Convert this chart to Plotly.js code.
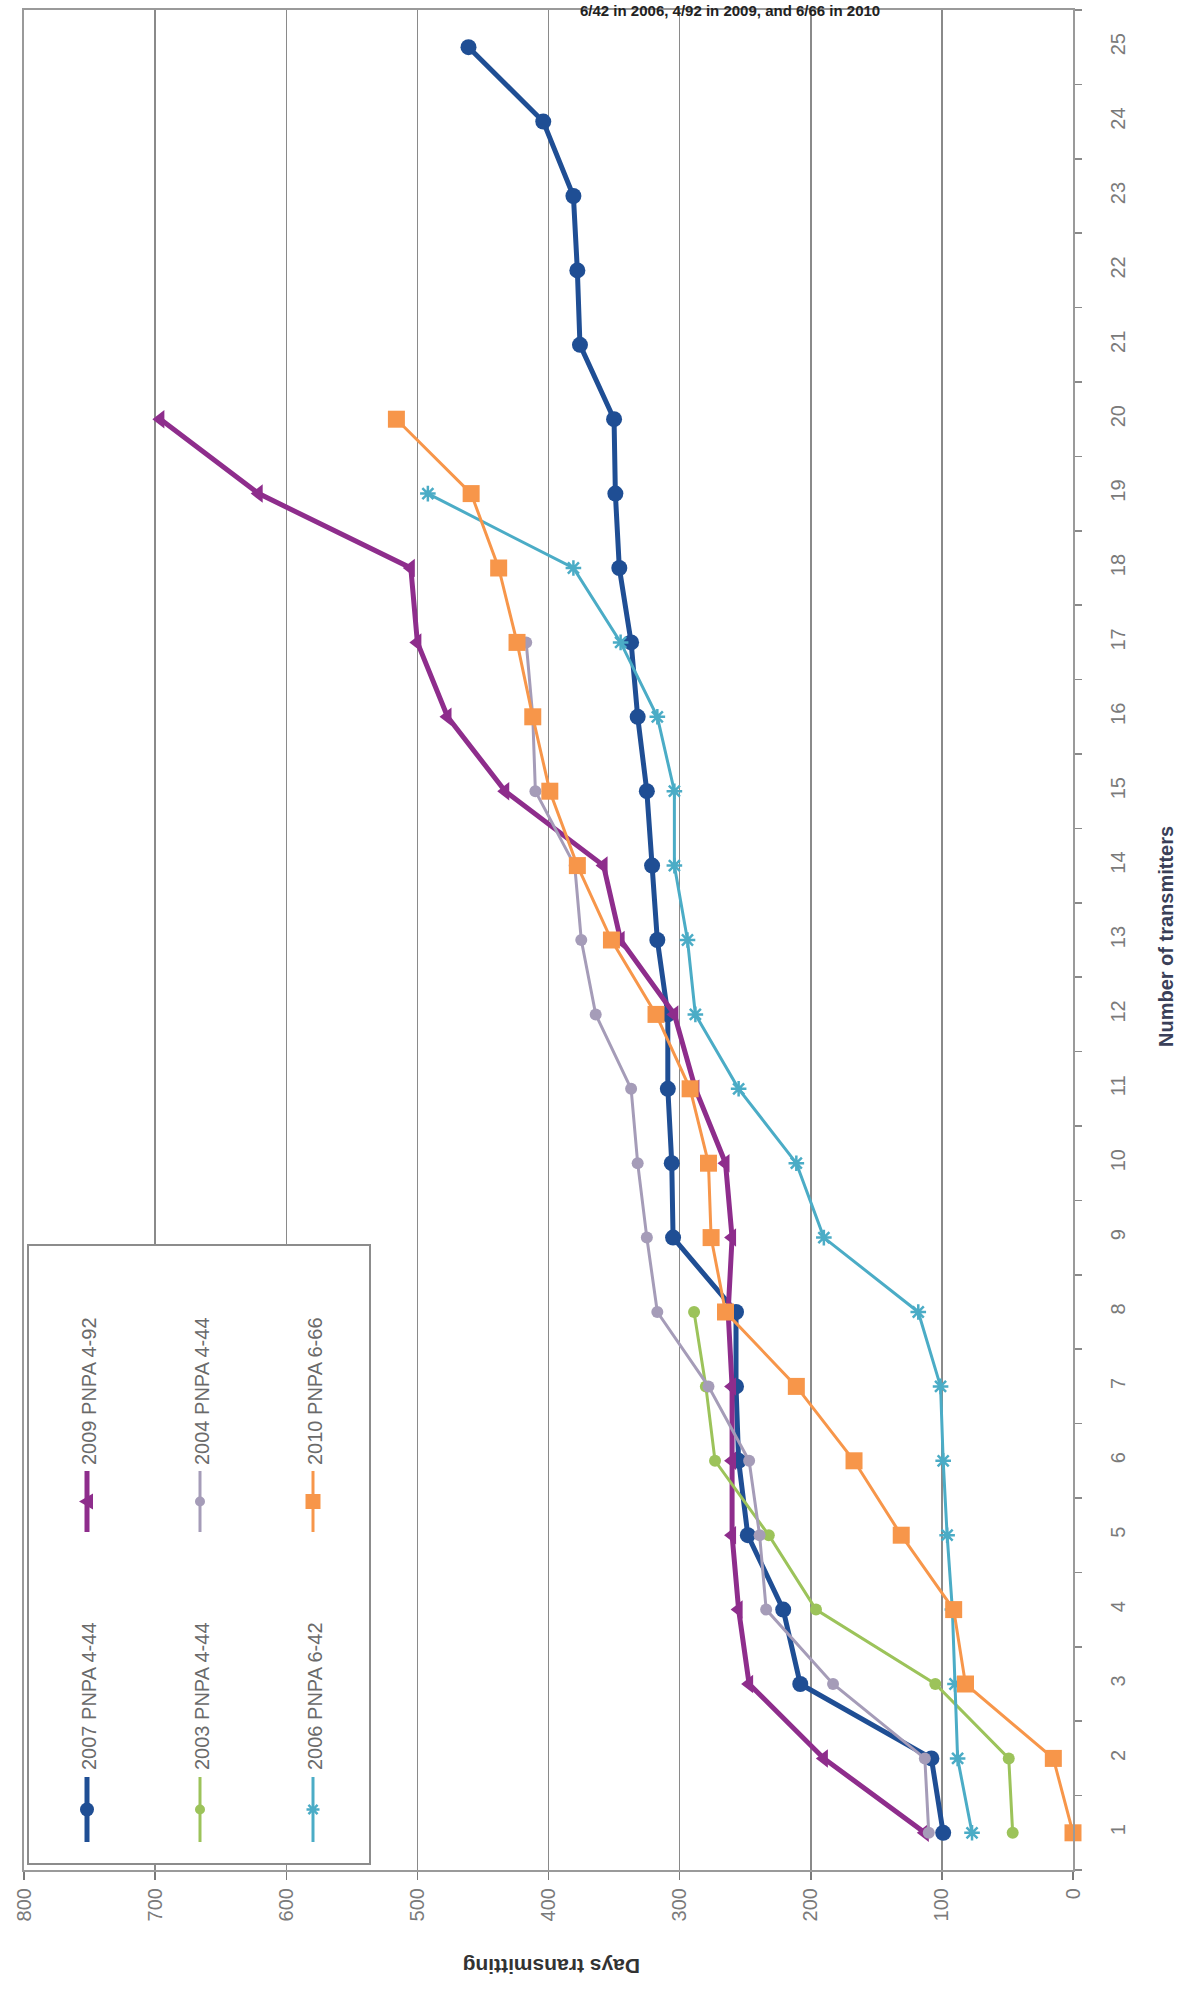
<!DOCTYPE html>
<html>
<head>
<meta charset="utf-8">
<script src="https://cdn.plot.ly/plotly-3.0.1.min.js"></script>
<style>
html,body{margin:0;padding:0;background:#ffffff;overflow:hidden}
#chart{width:1183px;height:1990px}
</style>
</head>
<body>
<div id="chart"></div>
<script>
// ---------------- data ----------------
const transmitters = ['1','2','3','4','5','6','7','8','9','10','11','12','13','14','15','16','17','18','19','20','21','22','23','24','25'];
const seriesNames = ['2007 PNPA 4-44','2009 PNPA 4-92','2003 PNPA 4-44','2004 PNPA 4-44','2006 PNPA 6-42','2010 PNPA 6-66'];
const days2007 = [99,108,208,221,248,255,257,257,305,306,309,309,317,321,325,332,337,346,349,350,376,378,381,404,461];
const days2009 = [113,190,247,255,260,260,260,263,260,265,288,304,345,358,433,477,500,505,621,696];
const days2003 = [46,49,105,196,232,273,280,289];
const days2004 = [110,113,183,234,239,247,278,317,325,332,337,364,375,380,410,412,417];
const days2006 = [77,88,90,92,96,99,101,118,190,211,255,288,294,304,304,317,345,381,492];
const days2010 = [0,15,82,91,131,167,211,265,276,278,292,318,352,378,399,412,424,438,459,516];
const dayTicks = [0,100,200,300,400,500,600,700,800];
const titleText = '6/42 in 2006, 4/92 in 2009, and 6/66 in 2010';
const xTitleText = 'Days transmitting';
const yTitleText = 'Number of transmitters';

// ---------------- styles ----------------
const colors = ['#1f4e94','#8e2d8c','#9cc35a','#a59cb8','#4bacc6','#f7964a'];
const lineWidths = [5,5,3,3,3,3];
const symbols = ['circle','triangle-left','circle','circle','asterisk-open','square'];
const sizes = [16,16,12,12,13,17];
const allDays = [days2007,days2009,days2003,days2004,days2006,days2010];

const traces = allDays.map((d,i)=>({
  type:'scatter', mode:'lines+markers', name:seriesNames[i],
  x:d, y:transmitters.slice(0,d.length),
  line:{color:colors[i], width:lineWidths[i]},
  marker:{symbol:symbols[i], size:sizes[i], color:colors[i],
          line:{color:colors[i], width: symbols[i]==='asterisk-open'?2.5:0}},
  showlegend:false, cliponaxis:false
}));

// ---------------- geometry helpers (pixel -> paper) ----------------
const PL=24, PR=1073, PT=10, PB=1870;
const px = X => (X-PL)/(PR-PL);
const py = Y => (PB-Y)/(PB-PT);

const FONT = 'Liberation Sans, Arial, sans-serif';
const annotations = [];
const shapes = [];

// axis titles & top title
annotations.push({xref:'paper',yref:'paper',x:px(552),y:py(1966),text:xTitleText,textangle:180,showarrow:false,
  font:{family:FONT,size:21,color:'#333',weight:'bold'},xanchor:'center',yanchor:'middle'});
annotations.push({xref:'paper',yref:'paper',x:px(1166),y:py(937),text:yTitleText,textangle:-90,showarrow:false,
  font:{family:FONT,size:20,color:'#3a3f58',weight:'bold'},xanchor:'center',yanchor:'middle'});
annotations.push({xref:'paper',yref:'paper',x:px(730),y:py(1),text:titleText,showarrow:false,
  font:{family:FONT,size:15,color:'#222',weight:'bold'},xanchor:'center',yanchor:'top',borderpad:0});

// custom rotated legend
shapes.push({type:'rect',xref:'paper',yref:'paper',x0:px(28),x1:px(370),y0:py(1864),y1:py(1245),
  line:{color:'#8c8c8c',width:2},fillcolor:'#ffffff',layer:'above'});
const legendSlots = [ // [column x center, row]
  [87,2],[87,1],[200,2],[200,1],[313,2],[313,1]
];
const rows = {1:{top:1471,bot:1532,textBot:1467}, 2:{top:1777,bot:1842,textBot:1772}};
legendSlots.forEach((s,i)=>{
  const cx=s[0], r=rows[s[1]], cy=(r.top+r.bot)/2;
  shapes.push({type:'line',xref:'paper',yref:'paper',x0:px(cx),x1:px(cx),y0:py(r.top),y1:py(r.bot),
    line:{color:colors[i],width:lineWidths[i]},layer:'above'});
  const m = sizes[i]/2;
  if(symbols[i]==='circle'){
    shapes.push({type:'circle',xref:'paper',yref:'paper',x0:px(cx-m+1),x1:px(cx+m-1),y0:py(cy+m-1),y1:py(cy-m+1),
      line:{width:0},fillcolor:colors[i],layer:'above'});
  } else if(symbols[i]==='square'){
    shapes.push({type:'rect',xref:'paper',yref:'paper',x0:px(cx-m+1),x1:px(cx+m-1),y0:py(cy+m-1),y1:py(cy-m+1),
      line:{width:0},fillcolor:colors[i],layer:'above'});
  } else if(symbols[i]==='triangle-left'){
    const p = `M ${px(cx-m)} ${py(cy)} L ${px(cx+m-2)} ${py(cy-m)} L ${px(cx+m-2)} ${py(cy+m)} Z`;
    shapes.push({type:'path',xref:'paper',yref:'paper',path:p,line:{width:0},fillcolor:colors[i],layer:'above'});
  } else {
    const p = `M ${px(cx-m)} ${py(cy)} L ${px(cx+m)} ${py(cy)} M ${px(cx-m*0.7)} ${py(cy-m*0.7)} L ${px(cx+m*0.7)} ${py(cy+m*0.7)} M ${px(cx-m*0.7)} ${py(cy+m*0.7)} L ${px(cx+m*0.7)} ${py(cy-m*0.7)}`;
    shapes.push({type:'path',xref:'paper',yref:'paper',path:p,line:{color:colors[i],width:2.5},layer:'above'});
  }
  annotations.push({xref:'paper',yref:'paper',x:px(cx+2),y:py(r.textBot),text:seriesNames[i],textangle:-90,
    showarrow:false,xanchor:'center',yanchor:'bottom',font:{family:FONT,size:20,color:'#6a6a6a'}});
});

const layout = {
  width:1183, height:1990,
  margin:{l:PL, r:1183-PR, t:PT, b:1990-PB, pad:0},
  paper_bgcolor:'#ffffff', plot_bgcolor:'#ffffff',
  showlegend:false,
  font:{family:FONT},
  xaxis:{
    range:[800,0], tickmode:'array', tickvals:dayTicks, ticktext:dayTicks.map(String),
    showgrid:true, gridcolor:'#8a8a8a', gridwidth:1.5, zeroline:false,
    showline:true, linecolor:'#9a9a9a', linewidth:2, mirror:true,
    ticks:'outside', ticklen:8, tickcolor:'#7a7a7a', tickwidth:1.5,
    tickangle:-90, tickfont:{family:FONT,size:20,color:'#7a7a7a'}
  },
  yaxis:{
    type:'category', categoryorder:'array', categoryarray:transmitters,
    range:[-0.5,24.5], side:'right',
    showgrid:false, zeroline:false,
    showline:true, linecolor:'#9a9a9a', linewidth:2, mirror:true,
    ticks:'outside', tickson:'boundaries', ticklen:7, tickcolor:'#8a8a8a', tickwidth:1.5,
    tickangle:-90, ticklabelstandoff:26, tickfont:{family:FONT,size:20,color:'#7a7a7a'}
  },
  annotations:annotations,
  shapes:shapes
};

Plotly.newPlot('chart', traces, layout, {displayModeBar:false, staticPlot:true});
</script>
</body>
</html>
